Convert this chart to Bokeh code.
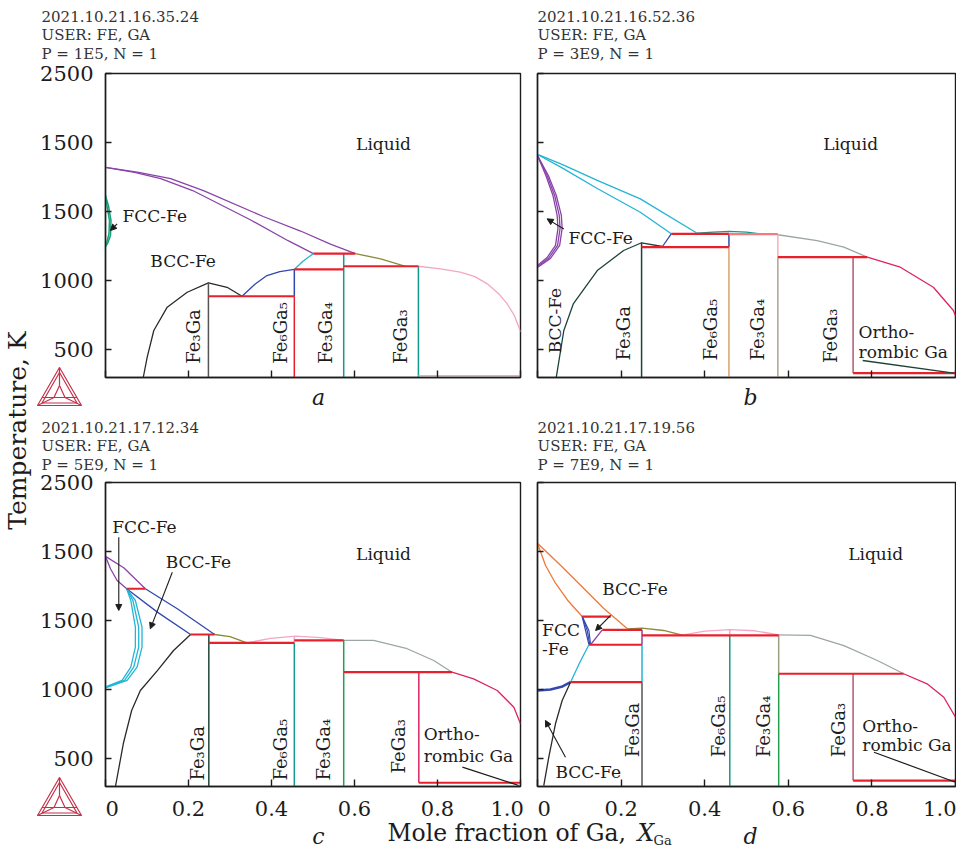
import math
from bokeh.plotting import figure
from bokeh.models import Range1d, FixedTicker, Label, Arrow, NormalHead, GridBox
from bokeh.embed import file_html
from bokeh.resources import INLINE

# ---------------- ticks ----------------
X_TICKS = [0, 0.2, 0.4, 0.6, 0.8, 1.0]
X_TICK_LABELS = ["0", "0.2", "0.4", "0.6", "0.8", "1.0"]
Y_TICKS = [500, 1000, 1500, 2000, 2500]
Y_TICK_LABELS = ["500", "1000", "1500", "1500", "2500"]

COMPOUNDS = ["Fe\u2083Ga", "Fe\u2086Ga\u2085", "Fe\u2083Ga\u2084", "FeGa\u2083"]

HEAD_A = ["2021.10.21.16.35.24", "USER: FE, GA", "P = 1E5, N = 1"]
HEAD_B = ["2021.10.21.16.52.36", "USER: FE, GA", "P = 3E9, N = 1"]
HEAD_C = ["2021.10.21.17.12.34", "USER: FE, GA", "P = 5E9, N = 1"]
HEAD_D = ["2021.10.21.17.19.56", "USER: FE, GA", "P = 7E9, N = 1"]

# ---------------- panel a (1E5) ----------------
A_LIQ_X = [0, 0.08, 0.157, 0.236, 0.38, 0.47, 0.542, 0.602]
A_LIQ_T = [1820, 1785, 1740, 1653, 1465, 1360, 1265, 1197]
A_SOL_X = [0, 0.07, 0.133, 0.21, 0.35, 0.44, 0.501]
A_SOL_T = [1820, 1785, 1740, 1653, 1440, 1290, 1197]
A_FCC1_X = [0, 0.007, 0.0133, 0.012, 0.005, 0]
A_FCC1_T = [1617, 1545, 1436, 1328, 1270, 1248]
A_FCC2_X = [0, 0.005, 0.0096, 0.0084, 0.003, 0]
A_FCC2_T = [1603, 1520, 1436, 1340, 1275, 1262]
A_BCC_X = [0.091, 0.1005, 0.1164, 0.1487, 0.1969, 0.248, 0.293, 0.329]
A_BCC_T = [300, 447, 640, 809, 917, 985, 953, 888]
A_BLUE_X = [0.329, 0.36, 0.389, 0.42, 0.455]
A_BLUE_T = [888, 975, 1038, 1066, 1082]
A_CYAN_X = [0.455, 0.475, 0.501]
A_CYAN_T = [1082, 1140, 1197]
A_OLIVE_X = [0.602, 0.663, 0.723]
A_OLIVE_T = [1197, 1159, 1105]
A_GA_X = [0.754, 0.807, 0.855, 0.890, 0.920, 0.948, 0.968, 0.985, 0.996, 1.0]
A_GA_T = [1105, 1086, 1062, 1030, 978, 905, 833, 750, 664, 630]
A_INV_X0 = [0.248, 0.455, 0.501, 0.574]
A_INV_X1 = [0.455, 0.574, 0.602, 0.754]
A_INV_T = [888, 1082, 1197, 1105]
A_LOW_X0 = [0.754]
A_LOW_X1 = [1.0]
A_LOW_T = [314]
A_VERT_X = [0.248, 0.455, 0.455, 0.574, 0.754]
A_VERT_TOP = [985, 1082, 888, 1197, 1105]
A_VERT_BOT = [300, 888, 300, 300, 300]

# ---------------- panel b (3E9) ----------------
B_LIQ_X = [0, 0.06, 0.143, 0.246, 0.382]
B_LIQ_T = [1914, 1840, 1726, 1593, 1344]
B_SOL_X = [0, 0.06, 0.143, 0.246, 0.32]
B_SOL_T = [1914, 1815, 1668, 1496, 1340]
B_FCC1_X = [0, 0.026, 0.045, 0.057, 0.059, 0.053, 0.031, 0]
B_FCC1_T = [1907, 1762, 1617, 1473, 1379, 1256, 1162, 1096]
B_FCC2_X = [0, 0.023, 0.041, 0.052, 0.054, 0.048, 0.027, 0]
B_FCC2_T = [1907, 1762, 1617, 1473, 1379, 1256, 1165, 1103]
B_FCC3_X = [0, 0.020, 0.037, 0.047, 0.049, 0.043, 0.023, 0]
B_FCC3_T = [1907, 1762, 1617, 1473, 1379, 1256, 1168, 1110]
B_BCC_X = [0.045, 0.063, 0.086, 0.143, 0.206, 0.249, 0.299]
B_BCC_T = [302, 640, 835, 1074, 1219, 1275, 1248]
B_BLUE_X = [0.299, 0.32]
B_BLUE_T = [1248, 1340]
B_TEAL_X = [0.382, 0.42, 0.458, 0.50, 0.533]
B_TEAL_T = [1344, 1352, 1357, 1352, 1340]
B_GRAY_X = [0.575, 0.669, 0.733, 0.789]
B_GRAY_T = [1333, 1291, 1243, 1171]
B_GA_X = [0.789, 0.868, 0.947, 0.995, 1.0]
B_GA_T = [1171, 1098, 953, 785, 745]
B_INV_X0 = [0.32, 0.458, 0.249, 0.575, 0.755]
B_INV_X1 = [0.458, 0.575, 0.458, 0.789, 1.0]
B_INV_T = [1340, 1337, 1243, 1171, 331]
B_VERT_X = [0.249, 0.458, 0.458, 0.575, 0.575, 0.755]
B_VERT_TOP = [1275, 1340, 1243, 1337, 1171, 1171]
B_VERT_BOT = [300, 1243, 300, 1171, 300, 331]

# ---------------- panel c (5E9) ----------------
C_LIQ_X = [0, 0.044, 0.096]
C_LIQ_T = [1965, 1883, 1731]
C_SOL_X = [0, 0.012, 0.028, 0.051]
C_SOL_T = [1965, 1876, 1791, 1731]
C_BLUE1_X = [0.096, 0.173, 0.263]
C_BLUE1_T = [1731, 1586, 1400]
C_BLUE2_X = [0.051, 0.125, 0.205]
C_BLUE2_T = [1731, 1562, 1400]
C_BCC_X = [0.024, 0.043, 0.063, 0.084, 0.125, 0.164, 0.205]
C_BCC_T = [300, 611, 850, 995, 1139, 1284, 1400]
C_FCC1_X = [0.051, 0.072, 0.088, 0.088, 0.076, 0.052, 0]
C_FCC1_T = [1731, 1646, 1453, 1309, 1164, 1068, 1014]
C_FCC2_X = [0.051, 0.066, 0.080, 0.080, 0.068, 0.046, 0]
C_FCC2_T = [1731, 1646, 1453, 1309, 1164, 1068, 1018]
C_FCC3_X = [0.051, 0.061, 0.072, 0.072, 0.061, 0.040, 0]
C_FCC3_T = [1731, 1646, 1453, 1309, 1164, 1068, 1022]
C_OLIVE_X = [0.263, 0.30, 0.341]
C_OLIVE_T = [1400, 1385, 1340]
C_PINK_X = [0.341, 0.398, 0.458, 0.518, 0.574]
C_PINK_T = [1340, 1372, 1388, 1378, 1357]
C_GRAY_X = [0.574, 0.646, 0.727, 0.791, 0.835]
C_GRAY_T = [1357, 1357, 1297, 1212, 1127]
C_GA_X = [0.835, 0.887, 0.944, 0.984, 1.0]
C_GA_T = [1127, 1079, 995, 874, 754]
C_INV_X0 = [0.051, 0.205, 0.249, 0.455, 0.574, 0.755]
C_INV_X1 = [0.096, 0.263, 0.455, 0.574, 0.835, 1.0]
C_INV_T = [1731, 1400, 1340, 1357, 1127, 327]
C_VERT_X = [0.249, 0.455, 0.455, 0.574, 0.755]
C_VERT_TOP = [1400, 1388, 1340, 1357, 1127]
C_VERT_BOT = [300, 1340, 300, 300, 327]

# ---------------- panel d (7E9) ----------------
D_LIQ_X = [0, 0.055, 0.103, 0.158, 0.215]
D_LIQ_T = [2061, 1901, 1757, 1590, 1441]
D_SOL_X = [0, 0.019, 0.043, 0.072, 0.107]
D_SOL_T = [2061, 1901, 1771, 1648, 1530]
D_BL1_X = [0.107, 0.115, 0.123]
D_BL2_X = [0.107, 0.119, 0.125]
D_BL3_X = [0.107, 0.123, 0.127]
D_BL_T = [1530, 1429, 1326]
D_PURP_X = [0.155, 0.127]
D_PURP_T = [1434, 1326]
D_OLIVE_X = [0.215, 0.25, 0.302, 0.346]
D_OLIVE_T = [1441, 1446, 1429, 1395]
D_PINK_X = [0.346, 0.40, 0.46, 0.52, 0.577]
D_PINK_T = [1395, 1425, 1436, 1427, 1398]
D_CYAN_X = [0.079, 0.10, 0.123]
D_CYAN_T = [1055, 1190, 1326]
D_BLUE_X = [0, 0.031, 0.06, 0.079]
D_BLUE_T = [995, 1002, 1024, 1055]
D_BCC_X = [0.015, 0.027, 0.043, 0.059, 0.079]
D_BCC_T = [307, 512, 754, 922, 1055]
D_GRAY_X = [0.577, 0.653, 0.733, 0.813, 0.876]
D_GRAY_T = [1398, 1393, 1320, 1212, 1116]
D_GA_X = [0.876, 0.932, 0.972, 1.0]
D_GA_T = [1116, 1043, 946, 802]
D_INV_X0 = [0.107, 0.155, 0.123, 0.25, 0.079, 0.577, 0.755]
D_INV_X1 = [0.175, 0.25, 0.25, 0.577, 0.25, 0.876, 1.0]
D_INV_T = [1530, 1434, 1326, 1393, 1055, 1116, 343]
D_VERT_X = [0.25, 0.25, 0.25, 0.46, 0.46, 0.577, 0.577, 0.755]
D_VERT_TOP = [1434, 1326, 1055, 1436, 1393, 1398, 1116, 1116]
D_VERT_BOT = [1326, 1055, 300, 1393, 300, 1116, 300, 343]

# ---------------- style ----------------
FONT = "DejaVu Serif"
INK = "#1c1c1c"
RED = "#e8202c"
LTRED = "#f27a80"
PURPLE = "#8a44a8"
GREEN_A = "#18a07a"
BLACK = "#2a2a2a"
DKGREEN = "#1e4438"
BLUE = "#3048b0"
CYAN = "#22b5d5"
TEAL = "#149a8a"
OLIVE = "#8c8a3a"
PINK = "#f4a6c6"
CRIMSON = "#dc2460"
ORANGE = "#f07838"
GRAY = "#9aa6a6"
TAN = "#d9a26e"
MAUVE = "#b05a72"
LTPINK = "#f5b0b8"
GREEN = "#22a050"
GRAYTAN = "#b0a38f"
GRAYOL = "#9aa080"
LOGO = "#c8304a"
FSP = "\u2007"  # figure space used to nudge edge tick labels inward

W, H = 956, 848
FRAME_H = 304


def make_panel(left, top, frame_w, show_x, show_y, pad_last):
    right = W - left - frame_w
    bottom = H - top - FRAME_H
    p = figure(width=W, height=H, x_range=Range1d(0, 1), y_range=Range1d(300, 2500),
               output_backend="svg", toolbar_location=None, title=None,
               min_border_left=left, min_border_right=right,
               min_border_top=top, min_border_bottom=bottom,
               background_fill_color=None, border_fill_color=None,
               outline_line_color=INK, outline_line_width=1.4)
    p.frame_align = False
    p.grid.visible = False
    xlabels = list(X_TICK_LABELS)
    xlabels[0] = FSP + xlabels[0]
    if pad_last:
        xlabels[-1] = xlabels[-1] + FSP + FSP
    for ax, ticks, labels, tin, standoff, show in (
            (p.xaxis[0], X_TICKS, xlabels, 7, 10, show_x),
            (p.yaxis[0], Y_TICKS, Y_TICK_LABELS, 6, 12, show_y)):
        ax.ticker = FixedTicker(ticks=ticks)
        ax.major_label_overrides = {t: l for t, l in zip(ticks, labels)}
        ax.major_tick_in = tin
        ax.major_tick_out = 0
        ax.minor_tick_line_color = None
        ax.axis_line_color = INK
        ax.axis_line_width = 1.4
        ax.major_tick_line_color = INK
        ax.major_tick_line_width = 1.4
        ax.major_label_standoff = standoff
        ax.major_label_text_font = FONT
        ax.major_label_text_font_size = "21px"
        ax.major_label_text_color = INK if show else None
    return p


def txt(p, x, y, text, size="17px", align="left", baseline="middle", angle=0.0, style="normal"):
    p.add_layout(Label(x=x, y=y, text=text, text_font=FONT, text_font_size=size,
                       text_align=align, text_baseline=baseline, angle=angle,
                       text_font_style=style, text_color=INK))


def arrow(p, x0, y0, x1, y1):
    p.add_layout(Arrow(end=NormalHead(size=6, fill_color=INK, line_color=INK, line_width=1),
                       x_start=x0, y_start=y0, x_end=x1, y_end=y1,
                       line_color=INK, line_width=1.1))


def compound_labels(p, xs, ts):
    for name, x, t in zip(COMPOUNDS, xs, ts):
        txt(p, x, t, name, size="18px", angle=math.pi / 2, align="left", baseline="middle")


# ================= panel a =================
pa = make_panel(105, 73, 415, False, True, True)
pa.line(A_LIQ_X, A_LIQ_T, line_color=PURPLE, line_width=1.3)
pa.line(A_SOL_X, A_SOL_T, line_color=PURPLE, line_width=1.3)
pa.multi_line([A_FCC1_X, A_FCC2_X], [A_FCC1_T, A_FCC2_T], line_color=GREEN_A, line_width=1.5)
pa.line(A_BCC_X, A_BCC_T, line_color=BLACK, line_width=1.3)
pa.line(A_BLUE_X, A_BLUE_T, line_color=BLUE, line_width=1.3)
pa.line(A_CYAN_X, A_CYAN_T, line_color=CYAN, line_width=1.3)
pa.line(A_OLIVE_X, A_OLIVE_T, line_color=OLIVE, line_width=1.3)
pa.line(A_GA_X, A_GA_T, line_color=PINK, line_width=1.3)
pa.segment(A_VERT_X, A_VERT_BOT, A_VERT_X, A_VERT_TOP,
           line_color=["#555555", BLUE, RED, TEAL, TEAL], line_width=1.5)
pa.segment(A_INV_X0, A_INV_T, A_INV_X1, A_INV_T, line_color=RED, line_width=2.2)
pa.segment(A_LOW_X0, A_LOW_T, A_LOW_X1, A_LOW_T, line_color=PINK, line_width=1.3)
txt(pa, 0.67, 1993, "Liquid", align="center")
txt(pa, 0.041, 1472, "FCC-Fe")
txt(pa, 0.108, 1142, "BCC-Fe")
arrow(pa, 0.028, 1412, 0.012, 1364)
compound_labels(pa, [0.212, 0.422, 0.530, 0.711], [400, 400, 400, 400])

# ================= panel b =================
pb = make_panel(537, 73, 418, False, False, False)
pb.line(B_LIQ_X, B_LIQ_T, line_color=CYAN, line_width=1.3)
pb.line(B_SOL_X, B_SOL_T, line_color=CYAN, line_width=1.3)
pb.multi_line([B_FCC1_X, B_FCC2_X, B_FCC3_X], [B_FCC1_T, B_FCC2_T, B_FCC3_T],
              line_color=PURPLE, line_width=1.3)
pb.line(B_BCC_X, B_BCC_T, line_color=DKGREEN, line_width=1.3)
pb.line(B_BLUE_X, B_BLUE_T, line_color=BLUE, line_width=1.3)
pb.line(B_TEAL_X, B_TEAL_T, line_color=TEAL, line_width=1.3)
pb.line(B_GRAY_X, B_GRAY_T, line_color=GRAY, line_width=1.3)
pb.line(B_GA_X, B_GA_T, line_color=CRIMSON, line_width=1.3)
pb.segment(B_VERT_X, B_VERT_BOT, B_VERT_X, B_VERT_TOP,
           line_color=[DKGREEN, BLUE, TAN, LTPINK, GRAYTAN, MAUVE], line_width=1.5)
pb.segment(B_INV_X0, B_INV_T, B_INV_X1, B_INV_T,
           line_color=[RED, LTRED, RED, RED, RED], line_width=2.2)
pb.segment([0.778], [423], [0.996], [331], line_color=DKGREEN, line_width=1.3)
txt(pb, 0.749, 1993, "Liquid", align="center")
txt(pb, 0.074, 1306, "FCC-Fe")
arrow(pb, 0.063, 1375, 0.023, 1448)
txt(pb, 0.043, 712, "BCC-Fe", angle=math.pi / 2, align="center")
compound_labels(pb, [0.206, 0.414, 0.526, 0.701], [423, 423, 423, 405])
txt(pb, 0.768, 628, "Ortho-")
txt(pb, 0.768, 483, "rombic Ga")

# ================= panel c =================
pc = make_panel(105, 482, 415, True, True, True)
pc.line(C_LIQ_X, C_LIQ_T, line_color=PURPLE, line_width=1.3)
pc.line(C_SOL_X, C_SOL_T, line_color=PURPLE, line_width=1.3)
pc.line(C_BLUE1_X, C_BLUE1_T, line_color=BLUE, line_width=1.3)
pc.line(C_BLUE2_X, C_BLUE2_T, line_color=BLUE, line_width=1.3)
pc.multi_line([C_FCC1_X, C_FCC2_X, C_FCC3_X], [C_FCC1_T, C_FCC2_T, C_FCC3_T],
              line_color=CYAN, line_width=1.3)
pc.line(C_BCC_X, C_BCC_T, line_color=BLACK, line_width=1.3)
pc.line(C_OLIVE_X, C_OLIVE_T, line_color=OLIVE, line_width=1.3)
pc.line(C_PINK_X, C_PINK_T, line_color=PINK, line_width=1.3)
pc.line(C_GRAY_X, C_GRAY_T, line_color=GRAY, line_width=1.3)
pc.line(C_GA_X, C_GA_T, line_color=CRIMSON, line_width=1.3)
pc.segment(C_VERT_X, C_VERT_BOT, C_VERT_X, C_VERT_TOP,
           line_color=[DKGREEN, PINK, TEAL, GREEN, CRIMSON], line_width=1.5)
pc.segment(C_INV_X0, C_INV_T, C_INV_X1, C_INV_T, line_color=RED, line_width=2.2)
pc.segment([0.86], [440], [0.996], [307], line_color=INK, line_width=1.2)
txt(pc, 0.67, 1986, "Liquid", align="center")
txt(pc, 0.016, 2177, "FCC-Fe")
arrow(pc, 0.032, 2104, 0.032, 1574)
txt(pc, 0.145, 1923, "BCC-Fe")
arrow(pc, 0.161, 1851, 0.108, 1441)
compound_labels(pc, [0.221, 0.422, 0.526, 0.707], [343, 343, 343, 394])
txt(pc, 0.767, 681, "Ortho-")
txt(pc, 0.767, 524, "rombic Ga")

# ================= panel d =================
pd = make_panel(537, 482, 418, True, False, False)
pd.line(D_LIQ_X, D_LIQ_T, line_color=ORANGE, line_width=1.3)
pd.line(D_SOL_X, D_SOL_T, line_color=ORANGE, line_width=1.3)
pd.multi_line([D_BL1_X, D_BL2_X, D_BL3_X], [D_BL_T, D_BL_T, D_BL_T], line_color=BLUE, line_width=1.2)
pd.line(D_PURP_X, D_PURP_T, line_color=PURPLE, line_width=1.3)
pd.line(D_OLIVE_X, D_OLIVE_T, line_color=OLIVE, line_width=1.3)
pd.line(D_PINK_X, D_PINK_T, line_color=PINK, line_width=1.3)
pd.line(D_CYAN_X, D_CYAN_T, line_color=CYAN, line_width=1.3)
pd.line(D_BLUE_X, D_BLUE_T, line_color=BLUE, line_width=2.5)
pd.line(D_BCC_X, D_BCC_T, line_color=BLACK, line_width=1.3)
pd.line(D_GRAY_X, D_GRAY_T, line_color=GRAY, line_width=1.3)
pd.line(D_GA_X, D_GA_T, line_color=CRIMSON, line_width=1.3)
pd.segment(D_VERT_X, D_VERT_BOT, D_VERT_X, D_VERT_TOP,
           line_color=[PURPLE, CYAN, "#555555", PINK, TEAL, GRAYOL, GREEN, MAUVE], line_width=1.5)
pd.segment(D_INV_X0, D_INV_T, D_INV_X1, D_INV_T, line_color=RED, line_width=2.2)
pd.segment([0.805], [548], [1.0], [331], line_color=INK, line_width=1.2)
txt(pd, 0.809, 1986, "Liquid", align="center")
txt(pd, 0.011, 1429, "FCC")
txt(pd, 0.011, 1297, "-Fe")
txt(pd, 0.155, 1731, "BCC-Fe")
arrow(pd, 0.175, 1538, 0.139, 1429)
txt(pd, 0.043, 403, "BCC-Fe")
arrow(pd, 0.067, 512, 0.019, 778)
compound_labels(pd, [0.227, 0.434, 0.541, 0.721], [512, 512, 512, 512])
txt(pd, 0.777, 736, "Ortho-")
txt(pd, 0.777, 597, "rombic Ga")

# ================= page decoration (page pixel coordinates) =================
deco = figure(width=W, height=H, x_range=Range1d(0, W), y_range=Range1d(H, 0),
              output_backend="svg", toolbar_location=None, title=None, min_border=0,
              x_axis_type=None, y_axis_type=None,
              background_fill_color=None, border_fill_color=None, outline_line_color=None)
deco.frame_align = False
deco.grid.visible = False

for head, hx, hy in ((HEAD_A, 41, 16), (HEAD_B, 537, 16), (HEAD_C, 41, 427), (HEAD_D, 537, 427)):
    for i, line in enumerate(head):
        deco.add_layout(Label(x=hx, y=hy + i * 18.5, text=line, text_font=FONT, text_font_size="15px",
                              text_baseline="middle", text_align="left", text_color="#333333"))

for letter, lx, ly in (("a", 318, 397), ("b", 750, 397), ("c", 318, 836), ("d", 750, 836)):
    deco.add_layout(Label(x=lx, y=ly, text=letter, text_font=FONT, text_font_size="22px",
                          text_font_style="italic", text_align="center", text_baseline="middle",
                          text_color=INK))

deco.add_layout(Label(x=17, y=430, text="Temperature, K", angle=math.pi / 2, text_font=FONT,
                      text_font_size="25px", text_align="center", text_baseline="middle", text_color=INK))
deco.add_layout(Label(x=387, y=832, text="Mole fraction of Ga,", text_font=FONT, text_font_size="23.5px",
                      text_align="left", text_baseline="middle", text_color=INK))
deco.add_layout(Label(x=637, y=832, text="X", text_font=FONT, text_font_size="23.5px",
                      text_font_style="italic", text_align="left", text_baseline="middle", text_color=INK))
deco.add_layout(Label(x=653, y=840, text="Ga", text_font=FONT, text_font_size="13px",
                      text_align="left", text_baseline="middle", text_color=INK))

# Thermo-Calc style logos
for oy in (0, 410):
    top = (59, 367 + oy)
    bl = (37, 405 + oy)
    br = (81, 405 + oy)
    inner = [(59, 385 + oy), (53.5, 397 + oy), (64.5, 397 + oy)]
    xs = [[top[0], bl[0], br[0], top[0]],
          [59, 41.5, 76.5, 59],
          [inner[0][0], inner[1][0], inner[2][0], inner[0][0]],
          [top[0], inner[0][0]], [bl[0], inner[1][0]], [br[0], inner[2][0]],
          [41.5, 76.5]]
    ys = [[top[1], bl[1], br[1], top[1]],
          [372 + oy, 402.5 + oy, 402.5 + oy, 372 + oy],
          [inner[0][1], inner[1][1], inner[2][1], inner[0][1]],
          [top[1], inner[0][1]], [bl[1], inner[1][1]], [br[1], inner[2][1]],
          [397 + oy, 397 + oy]]
    deco.multi_line(xs, ys, line_color=LOGO, line_width=1.2)

grid = GridBox(children=[(pa, 0, 0), (pb, 0, 0), (pc, 0, 0), (pd, 0, 0), (deco, 0, 0)])

open("out.html", "w").write(file_html(grid, INLINE))
